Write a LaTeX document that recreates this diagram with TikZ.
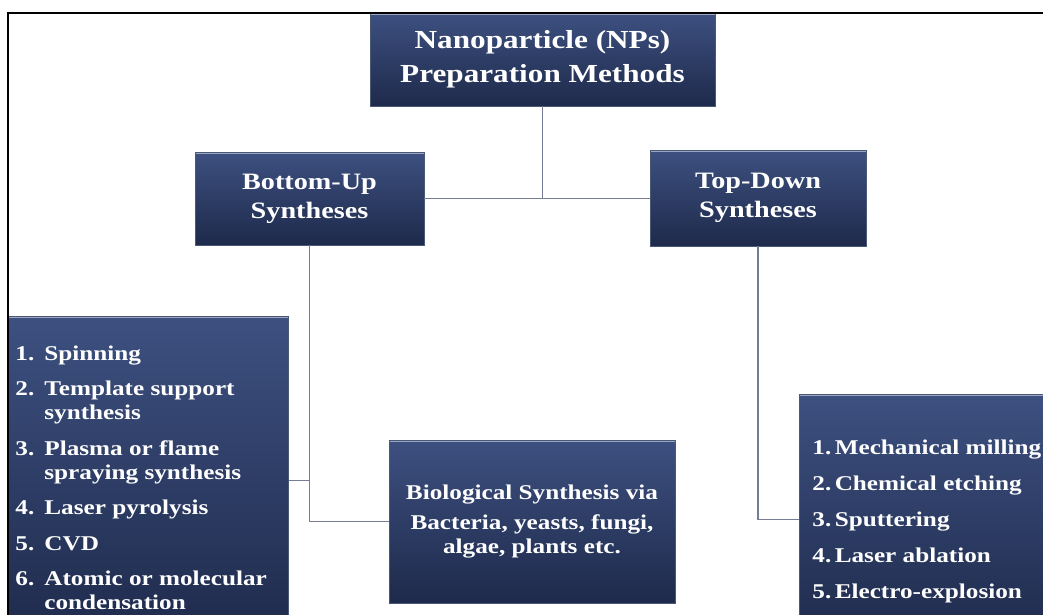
\documentclass[tikz,border=0pt]{standalone}
\usepackage{fontspec}
\newfontfamily\boxfont{Liberation Serif}[FakeStretch=1.2]
\usepackage{tikz}
\usetikzlibrary{positioning}
\definecolor{boxtop}{HTML}{3D5080}
\definecolor{boxbot}{HTML}{1E2A4B}
\definecolor{boxrim}{HTML}{9AA5BF}
\definecolor{boxedge}{HTML}{4A5878}
\definecolor{linkcol}{HTML}{767C93}
\tikzset{
  method/.style={draw=boxedge, line width=0.8pt, top color=boxtop,
    bottom color=boxbot, text=white, inner sep=0pt,
    path picture={\draw[boxrim, line width=3pt]
      (path picture bounding box.north west) --
      (path picture bounding box.north east);}},
  link/.style={draw=linkcol, line width=1.5pt}
}

\begin{document}
\begin{tikzpicture}[x=1pt, y=-1pt,
  headfont/.style={font={\boxfont\bfseries\fontsize{26}{34}\selectfont}},
  subfont/.style={font={\boxfont\bfseries\fontsize{23.5}{29}\selectfont}},
  listfont/.style={font={\boxfont\bfseries\fontsize{21}{24}\selectfont}}]
  \useasboundingbox (0,0) rectangle (1043,614);
  \clip (0,0) rectangle (1043,614);
  \fill[white] (0,0) rectangle (1043,614);

  \node[method, headfont, align=center, minimum width=345pt,
    minimum height=93pt] (title) at (542.5,59.5)
    {Nanoparticle (NPs)\\Preparation Methods};
  \node[method, subfont, align=center, minimum width=229pt,
    minimum height=93pt] (bottomup) at (309.5,198.5)
    {Bottom-Up\\Syntheses};
  \node[method, subfont, align=center, minimum width=216pt,
    minimum height=96pt] (topdown) at (758,198)
    {Top-Down\\Syntheses};

  % lists run off the page at the bottom
  \node[method, listfont, anchor=north west, text height=44pt,
    text depth=284pt] (bulist) at (8,316)
    {\begin{tabular}[t]{@{\hspace{7pt}}p{29pt}@{}p{244pt}@{}}
      1. & Spinning\\[11.5pt]
      2. & Template support\\
         & synthesis\\[11.5pt]
      3. & Plasma or flame\\
         & spraying synthesis\\[11.5pt]
      4. & Laser pyrolysis\\[11.5pt]
      5. & CVD\\[11.5pt]
      6. & Atomic or molecular\\
         & condensation
    \end{tabular}};
  \node[method, listfont, align=center, minimum width=286pt,
    minimum height=163pt] (bio) at (532,521.5)
    {Biological Synthesis via\\[6pt]Bacteria, yeasts, fungi,\\algae, plants etc.};
  \node[method, listfont, anchor=north west, text height=60pt,
    text depth=190pt] (tdlist) at (799,394)
    {\begin{tabular}[t]{@{\hspace{13pt}}p{257pt}@{}}
      1.\,Mechanical milling\\[12pt]
      2.\,Chemical etching\\[12pt]
      3.\,Sputtering\\[12pt]
      4.\,Laser ablation\\[12pt]
      5.\,Electro-explosion
    \end{tabular}};

  \draw[link] (title.south) -- (title.south |- bottomup.east);
  \draw[link] (bottomup.east) -- (bottomup.east -| topdown.west);
  \draw[link] (bottomup.south) |- (bio.west);
  \draw[link] (bulist.east) -- (bulist.east -| bottomup.south);
  \draw[link] (topdown.south) |- (tdlist.west);

  \draw[black, line width=2.5pt] (8,700) -- (8,13) -- (1100,13);
\end{tikzpicture}
\end{document}
